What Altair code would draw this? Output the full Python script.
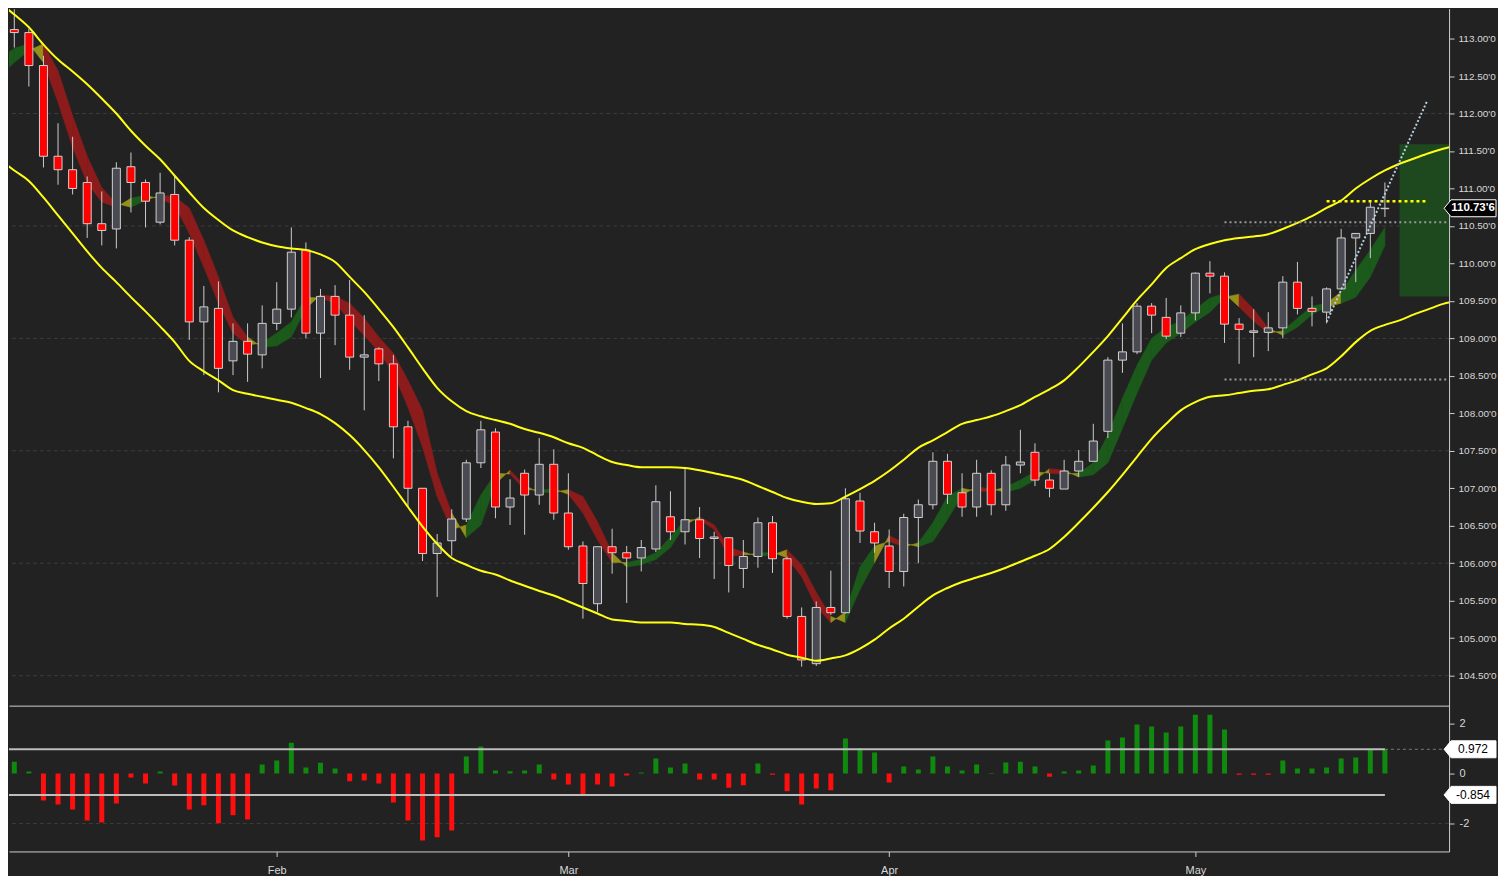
import altair as alt
import pandas as pd

# ------------------------------------------------------------------ data
idx = list(range(96))

opens = [112.75, 113.12, 113.08, 112.64, 111.43, 111.25, 111.08, 110.53, 110.46, 111.29,
         111.08, 110.55, 110.92, 110.31, 109.22, 109.40, 108.70, 108.96, 108.78, 109.20,
         109.39, 110.18, 109.07, 109.56, 109.31, 108.75, 108.86, 108.66, 107.82, 107.00,
         106.13, 106.30, 106.59, 107.34, 107.75, 106.75, 107.20, 106.91, 107.32, 106.67,
         106.23, 105.46, 106.22, 106.14, 106.07, 106.19, 106.62, 106.42, 106.58, 106.33,
         106.34, 105.93, 106.09, 106.54, 106.06, 105.29, 104.66, 105.41, 105.34, 106.83,
         106.42, 106.23, 105.89, 106.61, 106.78, 107.36, 106.94, 106.75, 107.20, 106.78,
         107.31, 107.48, 107.11, 106.99, 107.23, 107.36, 107.76, 108.71, 108.82, 109.43,
         109.28, 109.07, 109.34, 109.87, 109.83, 109.19, 109.08, 109.08, 109.14, 109.75,
         109.40, 109.35, 109.66, 110.34, 110.40, 110.73]
highs = [113.10, 113.39, 113.13, 112.77, 111.87, 111.69, 111.16, 110.96, 111.35, 111.48,
         111.12, 111.21, 111.17, 110.35, 109.70, 109.76, 109.20, 109.20, 109.44, 109.75,
         110.48, 110.28, 109.66, 109.71, 109.78, 109.31, 108.88, 108.78, 107.90, 107.00,
         106.39, 106.72, 107.38, 107.90, 107.80, 107.12, 107.25, 107.67, 107.52, 107.20,
         106.29, 106.22, 106.46, 106.23, 106.31, 107.04, 106.96, 107.27, 106.75, 106.42,
         106.35, 106.31, 106.61, 106.63, 106.09, 105.41, 105.49, 105.90, 107.00, 106.94,
         106.54, 106.45, 106.66, 106.85, 107.48, 107.46, 107.20, 107.38, 107.24, 107.43,
         107.78, 107.60, 107.20, 107.38, 107.51, 107.86, 108.75, 109.20, 109.47, 109.47,
         109.54, 109.44, 109.88, 110.03, 109.88, 109.27, 109.39, 109.35, 109.83, 110.02,
         109.56, 109.68, 110.46, 110.40, 110.84, 111.08]
lows = [112.60, 112.88, 112.36, 111.28, 111.05, 110.92, 110.34, 110.24, 110.20, 110.68,
        110.48, 110.52, 110.24, 108.98, 108.51, 108.28, 108.51, 108.42, 108.60, 109.11,
        109.28, 109.00, 108.47, 108.91, 108.58, 108.04, 108.43, 107.40, 106.75, 106.03,
        105.55, 106.10, 106.55, 107.27, 106.60, 106.51, 106.38, 106.78, 106.58, 106.18,
        105.26, 105.35, 105.86, 105.47, 105.89, 106.15, 106.31, 106.25, 106.07, 105.79,
        105.61, 105.67, 105.94, 105.87, 105.26, 104.62, 104.63, 105.31, 105.33, 106.27,
        106.14, 105.67, 105.69, 106.00, 106.72, 106.79, 106.62, 106.62, 106.64, 106.70,
        107.20, 107.03, 106.88, 106.99, 107.15, 107.36, 107.67, 108.54, 108.79, 109.07,
        108.99, 109.02, 109.24, 109.60, 108.94, 108.66, 108.75, 108.83, 109.00, 109.32,
        109.16, 109.20, 109.65, 109.75, 110.07, 110.62]
closes = [113.01, 113.08, 112.64, 111.43, 111.25, 111.00, 110.53, 110.44, 111.27, 111.08,
          110.83, 110.94, 110.31, 109.22, 109.42, 108.60, 108.96, 108.79, 109.20, 109.39,
          110.15, 109.07, 109.56, 109.31, 108.75, 108.78, 108.66, 107.82, 107.00, 106.13,
          106.27, 106.59, 107.34, 107.78, 106.75, 106.87, 106.91, 107.32, 106.67, 106.22,
          105.73, 106.22, 106.14, 106.07, 106.21, 106.82, 106.42, 106.58, 106.33, 106.35,
          105.97, 106.09, 106.54, 106.06, 105.29, 104.71, 105.41, 105.34, 106.86, 106.43,
          106.27, 105.89, 106.61, 106.78, 107.36, 106.92, 106.75, 107.20, 106.78, 107.31,
          107.35, 107.11, 107.00, 107.23, 107.36, 107.63, 108.71, 108.82, 109.43, 109.31,
          109.03, 109.34, 109.87, 109.83, 109.19, 109.12, 109.10, 109.14, 109.75, 109.40,
          109.36, 109.66, 110.34, 110.40, 110.75, 110.736]

# trend ribbon: upper / lower edge and regime (G = rising, R = falling)
ribbon_top = [112.73, 112.87, 112.93, 112.93, 112.57, 111.97, 111.43, 111.01, 110.80, 110.87,
              110.91, 110.91, 110.89, 110.74, 110.31, 109.82, 109.28, 109.02, 108.94, 109.07,
              109.22, 109.55, 109.58, 109.56, 109.47, 109.27, 109.02, 108.80, 108.44, 108.04,
              107.20, 106.67, 106.51, 106.91, 107.20, 107.24, 107.04, 106.98, 106.99, 106.98,
              106.89, 106.55, 106.14, 106.01, 106.05, 106.14, 106.35, 106.58, 106.62, 106.51,
              106.21, 106.15, 106.13, 106.15, 106.18, 105.98, 105.61, 105.29, 105.35, 105.95,
              106.23, 106.37, 106.27, 106.27, 106.54, 106.89, 107.00, 107.02, 106.99, 107.02,
              107.11, 107.22, 107.26, 107.24, 107.20, 107.34, 107.71, 108.20, 108.64, 109.00,
              109.15, 109.23, 109.39, 109.54, 109.60, 109.59, 109.39, 109.14, 109.10, 109.27,
              109.43, 109.47, 109.62, 109.91, 110.18, 110.48]
ribbon_bot = [112.51, 112.68, 112.84, 112.68, 112.15, 111.55, 111.07, 110.82, 110.75, 110.75,
              110.84, 110.86, 110.78, 110.40, 109.95, 109.47, 109.07, 108.91, 108.88, 108.90,
              109.02, 109.40, 109.54, 109.47, 109.24, 109.04, 108.82, 108.54, 108.08, 107.55,
              106.89, 106.45, 106.34, 106.51, 107.06, 107.19, 106.98, 106.94, 106.95, 106.92,
              106.67, 106.31, 106.01, 105.95, 105.98, 106.05, 106.21, 106.51, 106.58, 106.45,
              106.09, 106.11, 106.09, 106.11, 106.07, 105.82, 105.42, 105.21, 105.21, 105.65,
              106.01, 106.29, 106.22, 106.22, 106.29, 106.58, 106.91, 106.96, 106.96, 106.95,
              107.00, 107.11, 107.20, 107.19, 107.15, 107.18, 107.34, 107.80, 108.27, 108.71,
              108.94, 109.07, 109.22, 109.35, 109.55, 109.42, 109.23, 109.07, 109.04, 109.15,
              109.32, 109.42, 109.47, 109.55, 109.82, 110.24]
regime = list("GGGRRRRRRG" "GRRRRRRRGG" "GGRRRRRRRR" "RRGGGRRGGR" "RRRGGGGGRR"
              "RRGGRRRRGG" "GRRGGGGRRG" "GGRRGGGGGG" "GGGGGRRRGG" "GGGGGG")
extra_cross = [91]

# envelope bands (index 0 .. 100)
band_upper = [113.48, 113.32, 113.15, 112.92, 112.72, 112.56, 112.39, 112.20, 112.00, 111.77,
              111.57, 111.39, 111.17, 110.95, 110.74, 110.58, 110.44, 110.35, 110.28, 110.23,
              110.20, 110.18, 110.12, 110.02, 109.82, 109.62, 109.39, 109.15, 108.88, 108.60,
              108.34, 108.16, 108.03, 107.96, 107.91, 107.86, 107.79, 107.74, 107.68, 107.60,
              107.54, 107.44, 107.35, 107.31, 107.28, 107.28, 107.28, 107.27, 107.24, 107.20,
              107.16, 107.11, 107.03, 106.95, 106.87, 106.82, 106.79, 106.80, 106.89, 106.99,
              107.10, 107.23, 107.38, 107.54, 107.64, 107.75, 107.86, 107.91, 107.96, 108.03,
              108.11, 108.22, 108.32, 108.44, 108.62, 108.82, 109.03, 109.27, 109.51, 109.72,
              109.94, 110.07, 110.19, 110.26, 110.31, 110.34, 110.36, 110.39, 110.46, 110.54,
              110.63, 110.74, 110.84, 111.00, 111.13, 111.24, 111.33, 111.40, 111.47, 111.53,
              111.58]
band_lower = [111.39, 111.24, 111.10, 110.88, 110.64, 110.40, 110.16, 109.94, 109.75, 109.55,
              109.36, 109.16, 108.95, 108.70, 108.56, 108.44, 108.31, 108.26, 108.22, 108.18,
              108.14, 108.07, 107.99, 107.87, 107.71, 107.51, 107.28, 107.02, 106.75, 106.49,
              106.26, 106.07, 105.98, 105.90, 105.85, 105.77, 105.70, 105.63, 105.57, 105.49,
              105.41, 105.33, 105.25, 105.23, 105.21, 105.21, 105.21, 105.19, 105.18, 105.15,
              105.07, 104.99, 104.91, 104.85, 104.78, 104.74, 104.70, 104.73, 104.77, 104.86,
              104.98, 105.13, 105.26, 105.42, 105.57, 105.67, 105.75, 105.81, 105.87, 105.94,
              106.02, 106.10, 106.19, 106.35, 106.54, 106.74, 106.95, 107.18, 107.42, 107.66,
              107.86, 108.04, 108.15, 108.22, 108.24, 108.27, 108.30, 108.32, 108.38, 108.44,
              108.52, 108.60, 108.76, 108.95, 109.10, 109.18, 109.24, 109.32, 109.39, 109.46,
              109.50]

# oscillator histogram
hist = [0.47, 0.47, 0.08, -1.08, -1.24, -1.44, -1.88, -1.96, -1.20, -0.16,
        -0.40, 0.08, -0.48, -1.44, -1.27, -1.99, -1.67, -1.84, 0.36, 0.52,
        1.23, 0.24, 0.43, 0.20, -0.31, -0.28, -0.40, -1.16, -1.88, -2.68,
        -2.55, -2.28, 0.68, 1.08, 0.12, 0.09, 0.12, 0.36, -0.24, -0.44,
        -0.87, -0.44, -0.52, -0.08, 0.04, 0.60, 0.24, 0.40, -0.24, -0.24,
        -0.57, -0.47, 0.40, -0.05, -0.71, -1.24, -0.60, -0.67, 1.40, 1.00,
        0.84, -0.36, 0.28, 0.16, 0.68, 0.28, 0.12, 0.36, 0.02, 0.44,
        0.47, 0.28, -0.13, 0.08, 0.12, 0.32, 1.32, 1.44, 1.96, 1.88,
        1.64, 1.88, 2.36, 2.36, 1.76, -0.05, -0.05, -0.05, 0.52, 0.20,
        0.20, 0.24, 0.60, 0.64, 0.96, 0.972]
osc_levels = [0.972, -0.854]
osc_labels = ["0.972", "-0.854"]

# annotations
last_price = 110.736
last_label = "110.73'6"
dotted_levels = [110.55, 108.45]
dotted_start = [84, 84]
target_level = 110.83
target_span = [91.0, 97.9]
trend_i = [91.0, 97.9]
trend_v = [109.22, 112.17]
zone_i = [96.0, 99.4]
zone_v = [109.56, 111.59]

price_ticks = [104.5, 105.0, 105.5, 106.0, 106.5, 107.0, 107.5, 108.0, 108.5,
               109.0, 109.5, 110.0, 110.5, 111.0, 111.5, 112.0, 112.5, 113.0]
grid_levels = [104.5, 106.0, 107.5, 109.0, 110.5, 112.0]
osc_ticks = [-2, 0, 2]
month_ticks = [19, 39, 61, 82]
month_labels = ["Feb", "Mar", "Apr", "May"]

# ------------------------------------------------------------------ styling
BG = "#222222"
AX = "#cfcfcf"
LBL = "#d8d8d8"
FONT = "Liberation Sans"
X_DOMAIN = [0.637, 99.4]
W, H_MAIN, H_OSC = 1442, 698, 146

xs = alt.Scale(domain=X_DOMAIN, nice=False, zero=False, padding=0)
ys = alt.Scale(domain=[104.10, 113.40], nice=False, zero=False, padding=0)
hs = alt.Scale(domain=[-3.12, 2.72], nice=False, zero=False, padding=0)

# label box (tip on the left), 52 px wide, 17 px tall
BOX = "M -1 0 L -0.73 -0.327 L 1 -0.327 L 1 0.327 L -0.73 0.327 Z"
BOX_SIZE = 52 * 52
BOX_X = W + 21

# axes: the same object is given to every layer that uses the channel
ax_y_main = alt.Axis(orient="right", values=price_ticks,
                     labelExpr="format(datum.value, '.2f') + \"'0\"",
                     tickSize=5, tickColor=AX, domainColor=AX, labelColor=LBL,
                     labelFontSize=10, labelFont=FONT, labelPadding=4, grid=False,
                     title=None)
ax_x_main = alt.Axis(labels=False, ticks=False, grid=False, domainColor=AX, title=None)
month_expr = " : ".join(f"datum.value == {t} ? '{m}'" for t, m in zip(month_ticks, month_labels)) + " : ''"
ax_x_osc = alt.Axis(values=month_ticks, labelExpr=month_expr, tickSize=5, tickColor=AX,
                    domainColor=AX, labelColor=LBL, labelFontSize=11, labelFont=FONT,
                    labelPadding=8, grid=False, title=None)
ax_y_osc = alt.Axis(orient="right", values=osc_ticks, labelExpr="'' + datum.value",
                    tickSize=5, tickColor=AX, domainColor=AX, labelColor=LBL,
                    labelFontSize=11, labelFont=FONT, labelPadding=5, grid=False,
                    title=None)


def XM(f):
    return alt.X(f, scale=xs, axis=ax_x_main)


def YM(f):
    return alt.Y(f, scale=ys, axis=ax_y_main)


def XO(f):
    return alt.X(f, scale=xs, axis=ax_x_osc)


def YO(f):
    return alt.Y(f, scale=hs, axis=ax_y_osc)


# ------------------------------------------------------------------ frames
candles = pd.DataFrame({"i": idx, "open": opens, "high": highs, "low": lows, "close": closes})

band_rows = []
for k, (u, l) in enumerate(zip(band_upper, band_lower)):
    band_rows.append({"i": k, "v": u, "band": "upper"})
    band_rows.append({"i": k, "v": l, "band": "lower"})
bands = pd.DataFrame(band_rows)

fast = [t if r == "G" else b for t, b, r in zip(ribbon_top, ribbon_bot, regime)]
slow = [b if r == "G" else t for t, b, r in zip(ribbon_top, ribbon_bot, regime)]
seg_rows = []
for k in range(len(idx) - 1):
    same = regime[k] == regime[k + 1] and k not in extra_cross
    st = regime[k] if same else "Y"
    for j in (k, k + 1):
        seg_rows.append({"i": j, "f": fast[j], "s": slow[j], "seg": k, "state": st})
segs = pd.DataFrame(seg_rows)

hist_df = pd.DataFrame({"i": idx, "h": hist})

# ------------------------------------------------------------------ main panel
grid = alt.Chart(pd.DataFrame({"level": grid_levels})).mark_rule(
    color="#3c3c3c", strokeDash=[4, 3], strokeWidth=1
).encode(y=YM("level:Q"))

zone = alt.Chart(pd.DataFrame({"x0": [zone_i[0]], "x1": [zone_i[1]],
                               "y0": [zone_v[0]], "y1": [zone_v[1]]})).mark_rect(
    color="#1e481e", clip=True
).encode(x=XM("x0:Q"), x2="x1:Q", y=YM("y0:Q"), y2="y1:Q")

rib_scale = alt.Scale(domain=["G", "R", "Y"], range=["#1b5a1b", "#8c1c1c", "#95901a"])
ribbon = alt.Chart(segs).mark_area(clip=True, strokeWidth=0.6).encode(
    x=XM("i:Q"),
    y=alt.Y("f:Q", scale=ys, axis=ax_y_main, stack=None),
    y2="s:Q",
    color=alt.Color("state:N", scale=rib_scale, legend=None),
    stroke=alt.Stroke("state:N", scale=rib_scale, legend=None),
    detail="seg:N",
)

wicks = alt.Chart(candles).mark_rule(color="#cccccc", strokeWidth=1, clip=True).encode(
    x=XM("i:Q"), y=YM("low:Q"), y2="high:Q")

bodies = alt.Chart(candles).mark_bar(size=8, stroke="#d2d2d2", strokeWidth=1, clip=True).encode(
    x=XM("i:Q"), y=YM("open:Q"), y2="close:Q",
    fill=alt.condition("datum.close >= datum.open", alt.value("#4a4a52"), alt.value("#ff0000")))

band_lines = alt.Chart(bands).mark_line(color="#ffff14", strokeWidth=2,
                                        interpolate="monotone", clip=True).encode(
    x=XM("i:Q"), y=YM("v:Q"), detail="band:N")

dotted = alt.Chart(pd.DataFrame({"level": dotted_levels, "x0": dotted_start,
                                 "x1": [X_DOMAIN[1]] * len(dotted_levels)})).mark_rule(
    color="#9a9a9a", strokeDash=[2, 3], strokeWidth=2, clip=True
).encode(x=XM("x0:Q"), x2="x1:Q", y=YM("level:Q"))

target = alt.Chart(pd.DataFrame({"level": [target_level], "x0": [target_span[0]],
                                 "x1": [target_span[1]]})).mark_rule(
    color="#ffff00", strokeDash=[3, 3], strokeWidth=2.5, clip=True
).encode(x=XM("x0:Q"), x2="x1:Q", y=YM("level:Q"))

trend = alt.Chart(pd.DataFrame({"i": trend_i, "v": trend_v})).mark_line(
    color="#b6cfe0", strokeDash=[2, 2], strokeWidth=2, clip=True
).encode(x=XM("i:Q"), y=YM("v:Q"))

last_df = pd.DataFrame({"v": [last_price], "label": [last_label]})
last_box = alt.Chart(last_df).mark_point(shape=BOX, size=BOX_SIZE, filled=True, fill="#000000",
                                         stroke="#ffffff", strokeWidth=1, opacity=1).encode(
    x=alt.value(BOX_X), y=YM("v:Q"))
last_txt = alt.Chart(last_df).mark_text(color="#ffffff", fontSize=11.5, fontWeight="bold",
                                        font=FONT, align="center", baseline="middle").encode(
    x=alt.value(BOX_X + 3), y=YM("v:Q"), text="label:N")

main = alt.layer(grid, zone, ribbon, wicks, bodies, band_lines, dotted, target, trend,
                 last_box, last_txt).properties(width=W, height=H_MAIN)

# ------------------------------------------------------------------ oscillator panel
osc_grid = alt.Chart(pd.DataFrame({"level": [-2]})).mark_rule(
    color="#3c3c3c", strokeDash=[4, 3], strokeWidth=1
).encode(y=YO("level:Q"))

osc_bars = alt.Chart(hist_df).mark_bar(size=5, clip=True).encode(
    x=XO("i:Q"), y=YO("h:Q"), y2=alt.datum(0),
    color=alt.condition("datum.h >= 0", alt.value("#0f8a0f"), alt.value("#ff0e0e")))

lvl_df = pd.DataFrame({"level": osc_levels, "label": osc_labels,
                       "x0": [X_DOMAIN[0]] * 2, "x1": [idx[-1]] * 2})
osc_lines = alt.Chart(lvl_df).mark_rule(color="#bdbdbd", strokeWidth=2, clip=True).encode(
    x=XO("x0:Q"), x2="x1:Q", y=YO("level:Q"))
osc_ext = alt.Chart(lvl_df.iloc[:1].assign(x0=idx[-1], x1=X_DOMAIN[1])).mark_rule(
    color="#7a7a7a", strokeDash=[3, 3], strokeWidth=1, clip=True
).encode(x=XO("x0:Q"), x2="x1:Q", y=YO("level:Q"))
osc_box = alt.Chart(lvl_df).mark_point(shape=BOX, size=BOX_SIZE, filled=True, fill="#ffffff",
                                       stroke="#ffffff", strokeWidth=1, opacity=1).encode(
    x=alt.value(BOX_X), y=YO("level:Q"))
osc_txt = alt.Chart(lvl_df).mark_text(color="#000000", fontSize=12, font=FONT,
                                      align="center", baseline="middle").encode(
    x=alt.value(BOX_X + 3), y=YO("level:Q"), text="label:N")

lower = alt.layer(osc_grid, osc_bars, osc_lines, osc_ext, osc_box, osc_txt).properties(
    width=W, height=H_OSC)

chart = alt.vconcat(main, lower, spacing=0).properties(
    background=BG, padding=0
).configure_view(stroke=None).configure_concat(spacing=0)

chart.save("out.html", embed_options={"renderer": "svg", "actions": False})
